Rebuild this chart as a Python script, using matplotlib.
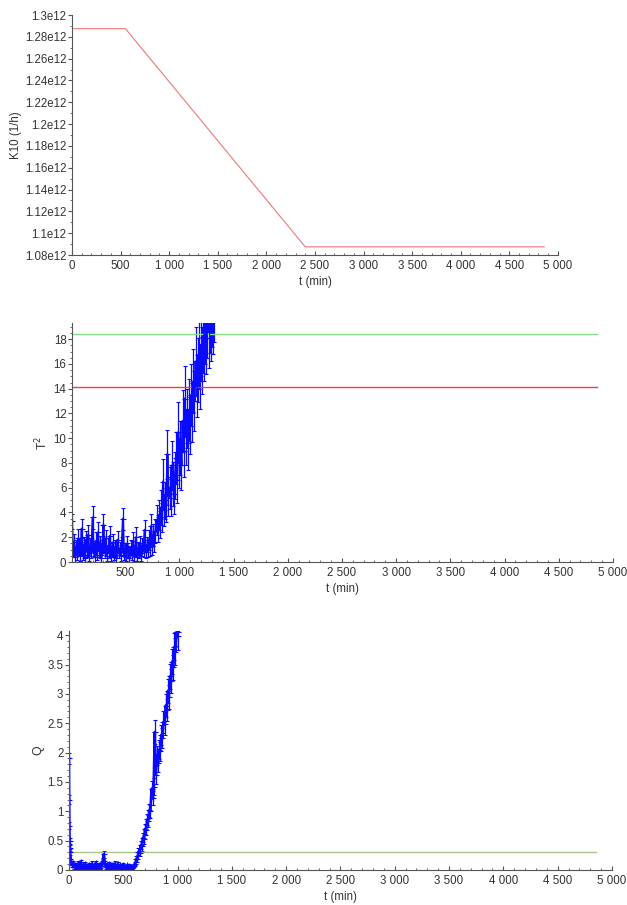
import matplotlib.pyplot as plt
import numpy as np
from matplotlib.ticker import FuncFormatter, MultipleLocator

plt.rcParams['font.family'] = ['Liberation Sans', 'DejaVu Sans']

# K10 profile (breakpoints)
k10_t = [0, 550, 2400, 4860]
k10_v = [1.2875e12, 1.2875e12, 1.0875e12, 1.0875e12]

# T2 statistic, sampled every 10 min from 10 to 1320
t2_t = np.arange(10, 1330, 10)
t2_v = [
    3.3, 0.9, 1.6, 0.4, 1.2, 0.7, 1.9, 0.5, 1.1, 2.7,
    0.6, 1.4, 0.3, 1.8, 0.9, 2.2, 0.5, 1.3, 0.8, 3.6,
    1.0, 0.4, 1.7, 0.6, 2.4, 0.9, 1.5, 0.3, 1.2, 3.0,
    0.7, 1.9, 0.5, 1.3, 0.8, 2.1, 0.4, 1.0, 1.6, 0.6,
    1.2, 0.3, 1.8, 0.7, 1.1, 0.5, 1.4, 3.5, 0.6, 1.0,
    0.4, 1.5, 0.8, 0.3, 1.2, 0.6, 1.7, 0.5, 0.9, 2.0,
    0.4, 1.1, 0.7, 1.5, 0.5, 1.3, 0.9, 2.6, 0.8, 1.4,
    1.0, 1.8, 1.2, 2.9, 1.3, 2.2, 1.6, 2.5, 3.4, 2.6,
    3.8, 3.0, 4.4, 3.6, 6.5, 4.2, 5.0, 4.6, 8.7, 5.3,
    6.0, 5.2, 7.8, 6.3, 5.5, 7.0, 8.4, 6.6, 10.5, 8.0,
    9.2, 7.8, 11.4, 9.0, 13.2, 10.1, 11.6, 9.6, 12.3, 11.0,
    13.5, 12.1, 14.6, 13.0, 16.2, 14.2, 15.5, 16.8, 15.0, 17.5,
    16.3, 18.2, 17.4, 19.0, 18.1, 19.5, 18.6, 20.0, 19.2, 20.5,
    19.8, 21.0,
]
t2_err = [
    0.6, 0.5, 0.7, 0.4, 0.6, 0.5, 0.8, 0.4, 0.5, 0.8,
    0.4, 0.6, 0.3, 0.7, 0.5, 0.8, 0.4, 0.6, 0.5, 0.9,
    0.5, 0.4, 0.7, 0.4, 0.8, 0.5, 0.6, 0.3, 0.6, 0.9,
    0.4, 0.7, 0.4, 0.6, 0.5, 0.8, 0.3, 0.5, 0.7, 0.4,
    0.6, 0.3, 0.7, 0.4, 0.5, 0.4, 0.6, 0.9, 0.4, 0.5,
    0.3, 0.6, 0.5, 0.3, 0.6, 0.4, 0.7, 0.4, 0.5, 0.8,
    0.3, 0.5, 0.4, 0.6, 0.4, 0.6, 0.5, 0.8, 0.5, 0.6,
    0.6, 0.8, 0.7, 1.0, 0.7, 0.9, 0.8, 1.0, 1.2, 1.0,
    1.2, 1.1, 1.4, 1.2, 1.8, 1.3, 1.5, 1.4, 2.0, 1.6,
    1.7, 1.5, 2.0, 1.8, 1.6, 1.9, 2.1, 1.8, 2.4, 2.0,
    2.2, 2.0, 2.5, 2.1, 2.6, 2.3, 2.4, 2.2, 2.5, 2.3,
    2.5, 2.4, 2.6, 2.4, 2.8, 2.5, 2.6, 2.8, 2.6, 2.9,
    2.7, 2.9, 2.8, 3.0, 2.9, 3.0, 2.9, 3.1, 3.0, 3.1,
    3.0, 3.2,
]
t2_lim95 = 14.1
t2_lim99 = 18.4

# Q statistic
q_t = np.concatenate([[0, 2, 4, 6, 8], np.arange(10, 1020, 10)])
q_v = [
    1.90, 1.20, 0.75, 0.50, 0.38,
    0.30, 0.14, 0.08, 0.12, 0.05, 0.09, 0.03, 0.11, 0.06, 0.04,
    0.13, 0.05, 0.08, 0.02, 0.10, 0.06, 0.04, 0.09, 0.03, 0.07,
    0.11, 0.04, 0.08, 0.05, 0.12, 0.03, 0.07, 0.09, 0.04, 0.10,
    0.15, 0.27, 0.12, 0.05, 0.08, 0.03, 0.10, 0.06, 0.04, 0.09,
    0.05, 0.11, 0.03, 0.07, 0.10, 0.04, 0.08, 0.05, 0.02, 0.09,
    0.06, 0.03, 0.08, 0.04, 0.07, 0.02, 0.05, 0.03, 0.06, 0.08,
    0.10, 0.19, 0.18, 0.31, 0.29, 0.42, 0.40, 0.55, 0.52, 0.70,
    0.68, 0.86, 0.84, 1.02, 1.00, 1.38, 1.22, 1.42, 2.35, 1.62,
    1.95, 1.82, 2.05, 2.02, 2.30, 2.25, 2.52, 2.48, 2.80, 2.72,
    3.05, 2.95, 3.30, 3.22, 3.55, 3.45, 3.80, 3.72, 4.05, 3.98,
    4.30,
]
q_err = [
    0.10, 0.08, 0.06, 0.05, 0.05,
    0.05, 0.04, 0.03, 0.04, 0.03, 0.03, 0.02, 0.04, 0.03, 0.02,
    0.04, 0.03, 0.03, 0.02, 0.04, 0.03, 0.02, 0.03, 0.02, 0.03,
    0.04, 0.02, 0.03, 0.03, 0.04, 0.02, 0.03, 0.03, 0.02, 0.04,
    0.05, 0.06, 0.04, 0.03, 0.03, 0.02, 0.04, 0.03, 0.02, 0.03,
    0.03, 0.04, 0.02, 0.03, 0.04, 0.02, 0.03, 0.03, 0.02, 0.03,
    0.03, 0.02, 0.03, 0.02, 0.03, 0.02, 0.03, 0.02, 0.03, 0.03,
    0.04, 0.05, 0.05, 0.06, 0.06, 0.07, 0.07, 0.08, 0.08, 0.09,
    0.09, 0.10, 0.10, 0.11, 0.11, 0.14, 0.12, 0.14, 0.20, 0.15,
    0.16, 0.15, 0.16, 0.16, 0.17, 0.17, 0.18, 0.18, 0.19, 0.19,
    0.20, 0.20, 0.21, 0.21, 0.22, 0.22, 0.23, 0.23, 0.24, 0.24,
    0.25,
]
q_lim = 0.31

t_end = 4850
blue = '#0a0aff'
fs = 8.3


def thousands(x, pos):
    return f'{int(round(x)):,}'.replace(',', ' ')


def style(ax, xmin):
    ax.spines['top'].set_visible(False)
    ax.spines['right'].set_visible(False)
    for s in ('left', 'bottom'):
        ax.spines[s].set_color('#555555')
        ax.spines[s].set_linewidth(0.8)
    ax.set_xlim(xmin, 5000)
    ax.xaxis.set_major_locator(MultipleLocator(500))
    ax.xaxis.set_minor_locator(MultipleLocator(100))
    ax.xaxis.set_major_formatter(FuncFormatter(thousands))
    ax.tick_params(axis='x', which='both', direction='in', colors='#555555',
                   labelcolor='#333333', labelsize=fs)
    ax.tick_params(axis='x', which='major', length=3)
    ax.tick_params(axis='x', which='minor', length=1.5)
    ax.tick_params(axis='y', which='both', direction='out', colors='#555555',
                   labelcolor='#333333', labelsize=fs)
    ax.tick_params(axis='y', which='major', length=3, pad=1)
    ax.tick_params(axis='y', which='minor', length=1.5)
    ax.set_xlabel('t (min)', fontsize=fs, color='#333333', labelpad=3)


fig = plt.figure(figsize=(6.27, 9.05), dpi=100)

# K10
ax1 = fig.add_axes([0.1148, 0.7182, 0.775, 0.2652])
ax1.plot(k10_t, k10_v, color='#ee7777', lw=0.8)
style(ax1, 0)
ax1.set_ylim(1.08e12, 1.3e12)
ax1.yaxis.set_major_locator(MultipleLocator(0.02e12))
ax1.yaxis.set_minor_locator(MultipleLocator(0.01e12))
ax1.yaxis.set_major_formatter(FuncFormatter(lambda v, p: f'{v / 1e12:g}e12'))
ax1.set_ylabel('K10 (1/h)', fontsize=fs, color='#333333', labelpad=2)

# T2
ax2 = fig.add_axes([0.1148, 0.379, 0.8628, 0.264])
ax2.errorbar(t2_t, t2_v, yerr=t2_err, fmt='-', marker='+', ms=4, mew=0.8,
             color=blue, ecolor=blue, lw=1.5, elinewidth=0.9, capsize=1.5,
             capthick=0.7)
ax2.plot([0, t_end], [t2_lim99, t2_lim99], color='#88dd88', lw=1.0)
ax2.plot([0, t_end], [t2_lim95, t2_lim95], color='#f03c4c', lw=1.0)
style(ax2, 10)
ax2.set_ylim(0, 19.3)
ax2.yaxis.set_major_locator(MultipleLocator(2))
ax2.yaxis.set_minor_locator(MultipleLocator(0.5))
ax2.set_ylabel('T$^2$', fontsize=fs + 0.5, color='#333333', labelpad=2)

# Q
ax3 = fig.add_axes([0.110, 0.0387, 0.866, 0.264])
ax3.errorbar(q_t, q_v, yerr=q_err, fmt='-', marker='+', ms=4, mew=0.8,
             color=blue, ecolor=blue, lw=1.9, elinewidth=0.9, capsize=1.5,
             capthick=0.7)
ax3.plot([0, t_end], [q_lim, q_lim], color='#a8c48c', lw=1.0)
style(ax3, 0)
ax3.set_ylim(0, 4.07)
ax3.yaxis.set_major_locator(MultipleLocator(0.5))
ax3.yaxis.set_minor_locator(MultipleLocator(0.1))
ax3.yaxis.set_major_formatter(FuncFormatter(lambda v, p: f'{v:g}'))
ax3.set_ylabel('Q', fontsize=fs + 0.5, color='#333333', labelpad=2)

fig.savefig('out.png', dpi=100)
